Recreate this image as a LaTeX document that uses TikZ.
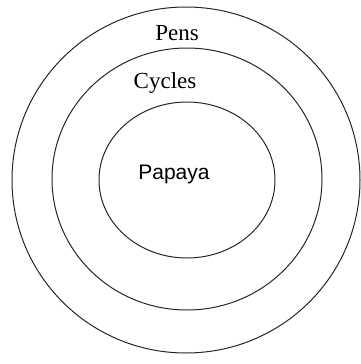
\documentclass[tikz,border=0pt]{standalone}
\usepackage{fontspec}
\setmainfont{Liberation Serif}
\newfontfamily\papfont{Liberation Sans}
\usetikzlibrary{shapes.geometric}
\begin{document}
\begin{tikzpicture}[x=1pt,y=-1pt,
  ring/.style={draw=black!85,line width=1pt,ellipse,inner sep=0pt},
  lbl/.style={inner sep=0pt,font=\fontsize{23}{26}\selectfont}]
\useasboundingbox (0,0) rectangle (361,364);
\node[ring,minimum width=348pt,minimum height=346pt] (outer) at (186,180) {};
\node[ring,minimum width=270pt,minimum height=262pt] (middle) at (187,179) {};
\node[ring,minimum width=176pt,minimum height=156pt] (inner) at (187,180) {};
\node[lbl] (pens) at (177,33) {Pens};
\node[lbl] (cycles) at (165,83) {Cycles};
\node[inner sep=0pt,font=\papfont\fontsize{21}{24}\selectfont] (papaya) at (174,174) {Papaya};
\end{tikzpicture}
\end{document}
